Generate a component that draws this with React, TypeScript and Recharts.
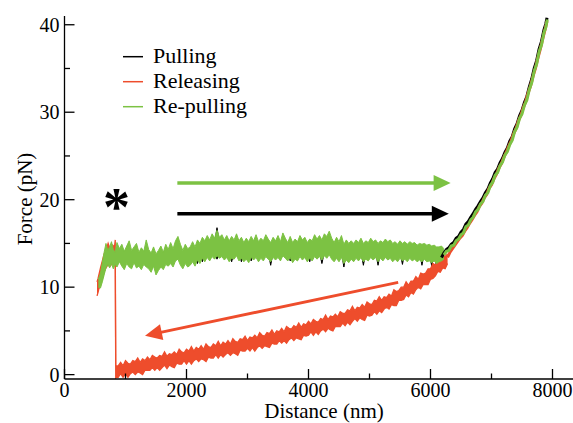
import {
  Area,
  ComposedChart,
  Customized,
  Line,
  ReferenceDot,
  ReferenceLine,
  XAxis,
  YAxis,
} from "recharts";

const FONT = "Liberation Serif";
const GREEN = "#7CC243";
const RED = "#EE4D2C";
const BLACK = "#000000";

const xTicks = [0, 1000, 2000, 3000, 4000, 5000, 6000, 7000, 8000];
const yTicks = [0, 5, 10, 15, 20, 25, 30, 35, 40];

const seriesNames = ["Pulling", "Releasing", "Re-pulling"];

// noisy plateau of the pulling trace: [distance, low, high]
const pullingBand: [number, number, number][] = [
  [560, 9.8, 10.5], [620, 10.9, 12.3], [680, 12.5, 14.0], [740, 13.0, 13.9],
  [860, 13.0, 13.9], [1000, 13.0, 13.9], [1200, 13.0, 13.9], [1400, 12.9, 13.6],
  [1500, 12.5, 13.4], [1600, 13.0, 13.8], [1800, 13.3, 14.0], [2000, 13.3, 14.0],
  [2140, 13.5, 14.2], [2180, 12.7, 14.3], [2220, 14.0, 14.5], [2260, 12.9, 14.5],
  [2300, 14.0, 14.6], [2460, 14.0, 15.0], [2500, 13.2, 16.8], [2540, 14.0, 15.0],
  [2700, 14.0, 14.6], [2740, 12.9, 14.6], [2780, 14.0, 14.6], [2860, 14.0, 14.6],
  [2900, 12.9, 14.6], [2940, 14.0, 14.6], [3020, 14.0, 14.6], [3060, 13.0, 14.6],
  [3100, 14.0, 14.6], [3340, 14.0, 14.6], [3380, 12.5, 14.6], [3420, 14.0, 14.6],
  [3660, 14.0, 14.6], [3700, 13.0, 14.6], [3740, 14.0, 14.6], [3980, 14.0, 14.6],
  [4020, 12.9, 14.6], [4060, 14.0, 14.6], [4180, 14.0, 14.6], [4220, 12.7, 14.6],
  [4260, 14.0, 14.6], [4540, 14.0, 14.6], [4580, 12.3, 14.5], [4620, 14.0, 14.5],
  [4860, 14.0, 14.5], [4900, 12.5, 14.5], [4940, 14.0, 14.5], [5100, 14.0, 14.5],
  [5140, 12.5, 14.5], [5180, 14.0, 14.5], [5500, 14.0, 14.5], [5540, 12.6, 14.5],
  [5580, 14.0, 14.5], [5820, 14.0, 14.5], [5860, 12.5, 14.5], [5900, 14.0, 14.5],
  [5980, 13.9, 14.5], [6020, 12.4, 14.4], [6060, 13.9, 14.4], [6100, 12.3, 14.4],
  [6140, 13.8, 14.4], [6180, 13.4, 14.4],
];

// stretching part of the pulling trace: [distance, force]
const pullingRise: [number, number][] = [
  [6180, 13.4], [6220, 13.9], [6260, 14.3], [6300, 14.5], [6340, 14.9], [6380, 15.1],
  [6420, 15.6], [6460, 15.8], [6500, 16.3], [6540, 16.6], [6580, 17.2], [6620, 17.5],
  [6660, 18.0], [6700, 18.4], [6740, 18.9], [6780, 19.3], [6820, 19.8], [6860, 20.2],
  [6900, 20.8], [6940, 21.2], [6980, 21.9], [7020, 22.4], [7060, 23.1], [7100, 23.5],
  [7140, 24.2], [7180, 24.7], [7220, 25.4], [7260, 25.9], [7300, 26.7], [7340, 27.2],
  [7380, 28.1], [7420, 28.7], [7460, 29.6], [7500, 30.2], [7540, 31.1], [7580, 31.8],
  [7620, 32.9], [7660, 33.8], [7700, 35.0], [7740, 35.9], [7780, 37.2], [7820, 38.1],
  [7860, 39.4], [7890, 40.1], [7910, 40.8],
];

// releasing trace: short piece under the plateau, the drop at ~836 nm, then the low branch
const releasingBand: [number, number, number][] = [
  [533, 9.0, 10.6], [550, 9.4, 11.0], [570, 10.0, 11.6], [590, 10.4, 12.2],
  [620, 11.2, 13.0], [650, 11.8, 13.8], [680, 12.2, 14.2], [715, 12.6, 15.0],
  [750, 12.4, 14.3], [790, 12.8, 14.8], [820, 12.5, 14.6], [832, 13.0, 15.4],
  [840, -0.4, 1.0], [848, -0.3, 1.0], [880, -0.3, 1.0], [920, 0.1, 1.4],
  [960, -0.3, 1.0], [1000, 0.1, 1.6], [1040, -0.3, 1.3], [1080, 0.1, 1.2],
  [1120, 0.3, 1.6], [1160, 0.0, 1.5], [1200, 0.3, 1.9], [1240, 0.2, 1.4],
  [1280, 0.0, 1.8], [1320, 0.5, 1.6], [1360, 0.5, 2.0], [1400, 0.5, 1.7],
  [1440, 0.8, 2.2], [1480, 0.5, 2.0], [1520, 0.8, 1.9], [1560, 0.5, 2.2],
  [1600, 0.8, 2.1], [1640, 1.1, 2.6], [1680, 0.7, 2.1], [1720, 1.1, 2.4],
  [1760, 0.9, 2.3], [1800, 0.8, 2.6], [1840, 1.3, 2.3], [1880, 1.2, 2.9],
  [1920, 1.2, 2.6], [1960, 1.6, 2.5], [2000, 1.2, 2.9], [2040, 1.6, 2.7],
  [2080, 1.2, 3.2], [2120, 1.6, 2.7], [2160, 1.8, 3.1], [2200, 1.5, 2.9],
  [2240, 1.8, 3.3], [2280, 1.7, 2.9], [2320, 1.5, 3.5], [2360, 2.0, 3.2],
  [2400, 1.9, 3.1], [2440, 1.9, 3.5], [2480, 2.3, 3.3], [2520, 1.9, 3.8],
  [2560, 2.3, 3.3], [2600, 2.0, 3.7], [2640, 2.3, 3.5], [2680, 2.5, 3.9],
  [2720, 2.2, 3.5], [2760, 2.5, 4.1], [2800, 2.4, 3.8], [2840, 2.2, 3.7],
  [2880, 2.8, 4.1], [2920, 2.7, 4.0], [2960, 2.7, 4.4], [3000, 3.0, 3.9],
  [3040, 2.7, 4.3], [3080, 3.1, 4.2], [3120, 2.7, 4.5], [3160, 3.1, 4.2],
  [3200, 3.3, 4.8], [3240, 3.0, 4.5], [3280, 3.3, 4.4], [3320, 3.2, 4.8],
  [3360, 3.1, 4.7], [3400, 3.6, 5.1], [3440, 3.5, 4.6], [3480, 3.5, 5.0],
  [3520, 3.9, 4.9], [3560, 3.6, 5.3], [3600, 3.9, 4.9], [3640, 3.6, 5.5],
  [3680, 4.0, 5.3], [3720, 4.2, 5.2], [3760, 3.9, 5.6], [3800, 4.2, 5.4],
  [3840, 4.1, 5.9], [3880, 4.0, 5.4], [3920, 4.5, 5.8], [3960, 4.4, 5.7],
  [4000, 4.5, 6.1], [4040, 4.9, 5.8], [4080, 4.5, 6.3], [4120, 4.9, 6.1],
  [4160, 4.6, 6.0], [4200, 5.0, 6.4], [4240, 5.2, 6.3], [4280, 4.9, 6.8],
  [4320, 5.3, 6.3], [4360, 5.1, 6.7], [4400, 5.0, 6.6], [4440, 5.5, 6.9],
  [4480, 5.5, 6.6], [4520, 5.5, 7.2], [4560, 5.9, 7.0], [4600, 5.6, 7.0],
  [4640, 6.0, 7.4], [4680, 5.7, 7.3], [4720, 6.1, 7.8], [4760, 6.4, 7.3],
  [4800, 6.1, 7.7], [4840, 6.5, 7.6], [4880, 6.3, 8.0], [4920, 6.2, 7.7],
  [4960, 6.8, 8.3], [5000, 6.7, 8.1], [5040, 6.8, 8.0], [5080, 7.2, 8.5],
  [5120, 6.9, 8.4], [5160, 7.3, 8.9], [5200, 7.1, 8.5], [5240, 7.5, 8.9],
  [5280, 7.7, 8.8], [5320, 7.5, 9.2], [5360, 8.0, 9.0], [5400, 7.9, 9.7],
  [5440, 7.9, 9.5], [5480, 8.5, 9.6], [5520, 8.5, 10.0], [5560, 8.6, 10.0],
  [5600, 9.1, 10.6], [5640, 8.9, 10.2], [5680, 9.4, 10.7], [5720, 9.2, 10.7],
  [5760, 9.7, 11.2], [5800, 10.0, 10.9], [5840, 9.8, 11.6], [5880, 10.3, 11.5],
  [5920, 10.3, 11.6], [5960, 10.3, 12.1], [6000, 10.9, 12.1], [6040, 11.0, 12.7],
  [6080, 11.3, 12.5], [6120, 11.8, 13.0], [6160, 11.7, 13.1], [6200, 12.2, 13.6],
  [6240, 12.1, 13.5], [6280, 12.7, 13.8],
];

const releasingRise: [number, number][] = [
  [6280, 13.4], [6320, 14.0], [6360, 14.4], [6400, 14.8], [6440, 15.2], [6480, 15.6],
  [6520, 15.9], [6560, 16.4], [6600, 16.8], [6640, 17.3], [6680, 17.7], [6720, 18.2],
  [6760, 18.6], [6800, 19.2], [6840, 19.6], [6880, 20.2], [6920, 20.6], [6960, 21.3],
  [7000, 21.7], [7040, 22.4], [7080, 22.9], [7120, 23.6], [7160, 24.1], [7200, 24.8],
  [7240, 25.4], [7280, 26.1], [7320, 26.7], [7360, 27.5], [7400, 28.1], [7440, 29.0],
  [7480, 29.6], [7520, 30.5], [7560, 31.2], [7600, 32.2], [7640, 33.0], [7680, 34.1],
  [7720, 35.0], [7760, 36.2], [7800, 37.2], [7840, 38.4], [7880, 39.5], [7910, 40.4],
];

// re-pulling plateau, edges read separately so the band stays ragged
const repullingBand: [number, number, number][] = [
  [555, 10.0, 10.9], [590, 9.9, 11.6], [620, 10.6, 12.8], [650, 11.4, 14.0],
  [680, 12.2, 15.0], [710, 12.6, 14.2], [740, 12.2, 14.6], [770, 12.7, 15.2],
  [800, 12.1, 14.3], [830, 12.6, 14.0], [860, 12.3, 15.1], [900, 12.9, 14.4],
  [940, 12.4, 14.9], [980, 12.0, 14.1], [1020, 12.7, 14.7], [1060, 12.3, 15.3],
  [1100, 12.1, 14.2], [1140, 12.8, 14.6], [1180, 12.2, 15.0], [1220, 12.4, 14.0],
  [1260, 12.0, 14.5], [1300, 12.6, 14.1], [1340, 12.3, 15.4], [1380, 12.1, 14.3],
  [1420, 11.7, 13.9], [1460, 12.4, 14.6], [1500, 11.4, 13.8], [1540, 11.9, 14.2],
  [1580, 12.3, 14.7], [1620, 12.0, 14.0], [1660, 12.6, 14.9], [1700, 12.4, 14.3],
  [1740, 12.7, 15.1], [1780, 12.3, 14.4], [1820, 13.0, 15.3], [1860, 13.2, 15.8],
  [1900, 12.5, 14.9], [1940, 12.1, 14.2], [1980, 12.7, 14.9], [2020, 12.3, 14.4],
  [2060, 12.5, 14.6], [2100, 12.9, 15.2], [2140, 12.4, 14.6], [2180, 13.1, 15.4],
  [2220, 12.7, 15.0], [2260, 13.3, 15.7], [2300, 12.9, 15.3], [2340, 13.4, 15.9],
  [2380, 13.0, 15.4], [2420, 13.5, 16.1], [2460, 13.2, 15.6], [2500, 13.6, 16.5],
  [2540, 13.3, 15.7], [2580, 13.5, 16.0], [2620, 13.1, 15.4], [2660, 13.4, 15.9],
  [2700, 12.9, 15.3], [2740, 13.3, 15.8], [2780, 13.2, 15.4], [2820, 13.6, 16.1],
  [2860, 13.0, 15.3], [2900, 13.3, 15.7], [2940, 12.9, 15.1], [2980, 13.2, 15.6],
  [3020, 12.8, 15.2], [3060, 13.4, 15.8], [3100, 13.1, 15.3], [3140, 13.4, 16.0],
  [3180, 12.9, 15.2], [3220, 13.3, 15.6], [3260, 13.0, 15.3], [3300, 13.5, 16.0],
  [3340, 13.2, 15.5], [3380, 12.9, 15.1], [3420, 13.4, 15.7], [3460, 13.1, 15.3],
  [3500, 13.4, 15.9], [3540, 13.0, 15.2], [3580, 13.6, 16.2], [3620, 13.3, 15.6],
  [3660, 13.0, 15.1], [3700, 13.4, 15.8], [3740, 12.8, 15.1], [3780, 13.2, 15.5],
  [3820, 13.0, 15.2], [3860, 13.5, 15.9], [3900, 13.1, 15.4], [3940, 13.4, 15.7],
  [3980, 12.9, 15.1], [4020, 13.3, 15.5], [4060, 13.0, 15.3], [4100, 13.5, 16.0],
  [4140, 13.2, 15.5], [4180, 13.5, 15.9], [4220, 13.1, 15.4], [4260, 13.6, 16.1],
  [4300, 13.3, 15.8], [4340, 13.7, 16.4], [4380, 13.2, 15.6], [4420, 12.9, 15.1],
  [4460, 13.3, 15.7], [4500, 12.9, 15.2], [4540, 13.4, 15.9], [4580, 12.7, 14.9],
  [4620, 13.1, 15.4], [4660, 12.8, 15.0], [4700, 13.2, 15.3], [4740, 12.9, 15.0],
  [4780, 13.3, 15.4], [4820, 13.0, 15.1], [4860, 13.4, 15.6], [4900, 12.9, 15.0],
  [4940, 13.2, 15.3], [4980, 13.0, 15.1], [5020, 13.4, 15.6], [5060, 13.1, 15.2],
  [5100, 13.4, 15.4], [5140, 12.9, 15.0], [5180, 13.3, 15.3], [5220, 13.0, 15.1],
  [5260, 13.4, 15.5], [5300, 13.1, 15.2], [5340, 13.3, 15.4], [5380, 12.9, 15.0],
  [5420, 13.2, 15.2], [5460, 12.9, 14.9], [5500, 13.3, 15.3], [5540, 13.0, 15.0],
  [5580, 13.2, 15.2], [5620, 12.9, 14.9], [5660, 13.3, 15.2], [5700, 13.0, 15.0],
  [5740, 13.2, 15.1], [5780, 12.9, 14.8], [5820, 13.1, 15.0], [5860, 12.9, 14.9],
  [5900, 13.2, 15.0], [5940, 12.9, 14.8], [5980, 13.0, 14.9], [6020, 12.8, 14.7],
  [6060, 13.0, 14.8], [6100, 12.7, 14.6], [6140, 12.9, 14.6], [6180, 13.0, 14.7],
  [6220, 13.2, 14.4],
];

const repullingRise: [number, number][] = [
  [6220, 13.7], [6260, 14.1], [6300, 14.2], [6340, 14.7], [6380, 14.8], [6420, 15.3],
  [6460, 15.5], [6500, 16.0], [6540, 16.2], [6580, 16.9], [6620, 17.1], [6660, 17.7],
  [6700, 18.0], [6740, 18.6], [6780, 18.9], [6820, 19.5], [6860, 19.8], [6900, 20.5],
  [6940, 20.8], [6980, 21.6], [7020, 22.0], [7060, 22.8], [7100, 23.1], [7140, 23.9],
  [7180, 24.3], [7220, 25.1], [7260, 25.5], [7300, 26.3], [7340, 26.8], [7380, 27.8],
  [7420, 28.3], [7460, 29.3], [7500, 29.8], [7540, 30.8], [7580, 31.4], [7620, 32.6],
  [7660, 33.4], [7700, 34.7], [7740, 35.5], [7780, 36.9], [7820, 37.7], [7860, 39.1],
  [7890, 39.7], [7915, 40.6],
];

// direction arrows, in data units
const repullArrow = [{ x: 1850, y: 21.9 }, { x: 6330, y: 21.9 }];
const pullArrow = [{ x: 1850, y: 18.4 }, { x: 6300, y: 18.4 }];
const releaseArrow = [{ x: 5470, y: 10.55 }, { x: 1320, y: 4.45 }];

const toBand = (rows: [number, number, number][]) =>
  rows.map(([x, lo, hi]) => ({ x, f: [lo, hi] }));
const toLine = (rows: [number, number][]) => rows.map(([x, f]) => ({ x, f }));

const axisStroke = { stroke: BLACK, strokeWidth: 1.3 };

function BottomTick(props: any) {
  const { x, y, payload } = props;
  const major = payload.value % 2000 === 0;
  return (
    <g>
      <line x1={x} x2={x} y1={y} y2={y - (major ? 10 : 5.5)} stroke={BLACK} strokeWidth={1.3} />
      {major && (
        <text x={x} y={y + 18} textAnchor="middle" fontSize={20} fontFamily={FONT} fill={BLACK}>
          {payload.value}
        </text>
      )}
    </g>
  );
}

function TopTick(props: any) {
  const { x, y, payload } = props;
  const major = payload.value % 2000 === 0;
  return <line x1={x} x2={x} y1={y} y2={y + (major ? 10 : 5.5)} stroke={BLACK} strokeWidth={1.3} />;
}

function LeftTick(props: any) {
  const { x, y, payload } = props;
  const major = payload.value % 10 === 0;
  return (
    <g>
      <line x1={x} x2={x + (major ? 10 : 5.5)} y1={y} y2={y} stroke={BLACK} strokeWidth={1.3} />
      {major && (
        <text x={x - 5} y={y + 7} textAnchor="end" fontSize={20} fontFamily={FONT} fill={BLACK}>
          {payload.value}
        </text>
      )}
    </g>
  );
}

function RightTick(props: any) {
  const { x, y, payload } = props;
  const major = payload.value % 10 === 0;
  return <line x1={x} x2={x - (major ? 10 : 5.5)} y1={y} y2={y} stroke={BLACK} strokeWidth={1.3} />;
}

function arrowShape(color: string, width: number) {
  return (props: any) => {
    const { x1, y1, x2, y2 } = props;
    const len = Math.hypot(x2 - x1, y2 - y1);
    const ux = (x2 - x1) / len;
    const uy = (y2 - y1) / len;
    const head = 17;
    const half = 8;
    const bx = x2 - ux * head;
    const by = y2 - uy * head;
    const pts = `${x2},${y2} ${bx - uy * half},${by + ux * half} ${bx + uy * half},${by - ux * half}`;
    return (
      <g>
        <line x1={x1} y1={y1} x2={bx + ux} y2={by + uy} stroke={color} strokeWidth={width} />
        <polygon points={pts} fill={color} />
      </g>
    );
  };
}

function Asterisk(props: any) {
  const { cx, cy } = props;
  return (
    <text x={cx} y={cy + 27} textAnchor="middle" fontSize={54} fontWeight="bold" fontFamily={FONT} fill={BLACK}>
      *
    </text>
  );
}

function LegendBox() {
  const colors = [BLACK, RED, GREEN];
  return (
    <g>
      {seriesNames.map((name, i) => (
        <g key={name}>
          <line x1={123} x2={143} y1={56.7 + 25 * i} y2={56.7 + 25 * i} stroke={colors[i]} strokeWidth={1.5} />
          <text x={153} y={63.3 + 25 * i} fontSize={22} fontFamily={FONT} fill={BLACK}>
            {name}
          </text>
        </g>
      ))}
    </g>
  );
}

function AxisTitles() {
  return (
    <g>
      <text x={324} y={418} textAnchor="middle" fontSize={21} fontFamily={FONT} fill={BLACK}>
        Distance (nm)
      </text>
      <text
        x={32}
        y={199}
        textAnchor="middle"
        transform="rotate(-90 32 199)"
        fontSize={21}
        fontFamily={FONT}
        fill={BLACK}
      >
        Force (pN)
      </text>
    </g>
  );
}

const bandProps = {
  type: "linear" as const,
  dataKey: "f",
  strokeWidth: 1,
  fillOpacity: 1,
  dot: false,
  activeDot: false,
  isAnimationActive: false,
};

const riseProps = {
  type: "linear" as const,
  dataKey: "f",
  strokeWidth: 3,
  dot: false,
  activeDot: false,
  isAnimationActive: false,
};

export default function App() {
  return (
    <div
      style={{
        position: "absolute",
        left: 0,
        top: 0,
        width: 573,
        height: 423,
        overflow: "hidden",
        background: "#fff",
      }}
    >
      <ComposedChart width={600} height={423} margin={{ top: 16, right: 17, bottom: 0, left: 0 }}>
        <XAxis
          dataKey="x"
          type="number"
          domain={[0, 8500]}
          ticks={xTicks}
          interval={0}
          allowDataOverflow
          height={44}
          tickSize={0}
          tickMargin={0}
          tick={BottomTick}
          axisLine={axisStroke}
        />
        <XAxis
          xAxisId="top"
          orientation="top"
          dataKey="x"
          type="number"
          domain={[0, 8500]}
          ticks={xTicks}
          interval={0}
          allowDataOverflow
          height={0}
          tickSize={0}
          tickMargin={0}
          tick={TopTick}
          axisLine={axisStroke}
        />
        <YAxis
          type="number"
          domain={[-0.5, 41]}
          ticks={yTicks}
          interval={0}
          allowDataOverflow
          width={64.5}
          tickSize={0}
          tickMargin={0}
          tick={LeftTick}
          axisLine={axisStroke}
        />
        <YAxis
          yAxisId="right"
          orientation="right"
          type="number"
          domain={[-0.5, 41]}
          ticks={yTicks}
          interval={0}
          allowDataOverflow
          width={0}
          tickSize={0}
          tickMargin={0}
          tick={RightTick}
          axisLine={axisStroke}
        />

        <Area {...bandProps} data={toBand(pullingBand)} name="Pulling" stroke={BLACK} fill={BLACK} />
        <Area {...bandProps} data={toBand(releasingBand)} name="Releasing" stroke={RED} fill={RED} strokeWidth={1.3} />
        <Area {...bandProps} data={toBand(repullingBand)} name="Re-pulling" stroke={GREEN} fill={GREEN} />
        <Line {...riseProps} data={toLine(pullingRise)} name="Pulling" stroke={BLACK} />
        <Line {...riseProps} data={toLine(releasingRise)} name="Releasing" stroke={RED} />
        <Line {...riseProps} data={toLine(repullingRise)} name="Re-pulling" stroke={GREEN} />

        <ReferenceLine segment={repullArrow} shape={arrowShape(GREEN, 3.5)} />
        <ReferenceLine segment={pullArrow} shape={arrowShape(BLACK, 3.5)} />
        <ReferenceLine segment={releaseArrow} shape={arrowShape(RED, 3)} />
        <ReferenceDot x={852} y={20.2} r={0} shape={Asterisk} />

        <Customized component={LegendBox} />
        <Customized component={AxisTitles} />
      </ComposedChart>
    </div>
  );
}
